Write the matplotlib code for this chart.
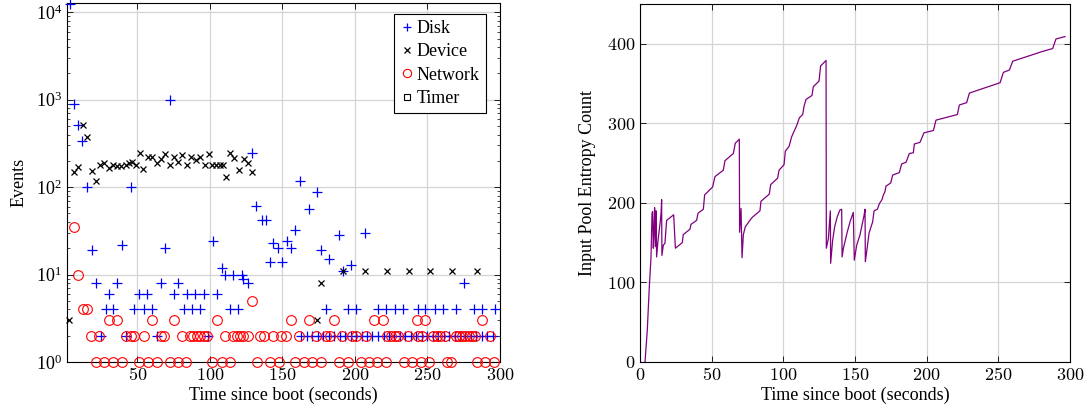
import numpy as np
import matplotlib
matplotlib.use('Agg')
import matplotlib.pyplot as plt
from matplotlib.ticker import LogLocator, NullFormatter, FixedLocator

plt.rcParams['font.family'] = ['Liberation Serif', 'DejaVu Serif']
plt.rcParams['mathtext.fontset'] = 'cm'

# --- left panel: event counts per source ---
disk_x = [3.8, 6.0, 9.3, 11.5, 15.2, 18.5, 21.4, 24.7, 28.3, 30.6, 33.5, 36.3, 39.5, 42.5,
          45.5, 47.7, 51.2, 54.6, 56.9, 60.3, 63.5, 66.0, 69.2, 72.5, 75.1, 78.2, 81.9, 84.1,
          87.6, 89.8, 93.3, 96.0, 99.0, 102.0, 104.7, 108.4, 110.4, 113.9, 116.2, 119.6, 121.9,
          123.0, 126.0, 129.3, 131.8, 135.8, 138.5, 141.2, 143.8, 147.0, 149.9, 153.0, 156.0,
          159.0, 162.2, 168.1, 174.0, 176.6, 180.0, 182.3, 188.7, 191.5, 195.0, 197.5, 201.0,
          206.8, 215.6, 221.3, 227.3, 232.8, 243.2, 248.6, 255.0, 260.4, 269.8, 275.5, 282.0,
          287.6, 296.7,
          163.0, 166.8, 170.5, 174.6, 178.2, 182.0, 185.9, 189.6, 193.3, 197.2, 200.8, 204.7,
          208.4, 212.1, 216.0, 219.7, 223.5, 227.2, 231.0, 234.8, 238.5, 242.3, 246.0, 249.9,
          253.6, 257.3, 261.2, 264.9, 268.7, 272.4, 276.2, 280.0, 283.7, 287.5, 291.3, 295.0]
disk_y = [12500, 900, 510, 340, 100, 19, 8, 2, 4, 6, 4, 8, 22, 2,
          100, 4, 6, 4, 6, 4, 2, 8, 20, 1000, 6, 8, 4, 6,
          4, 6, 4, 6, 2, 24, 6, 12, 10, 4, 10, 4, 10,
          9, 8, 246, 61, 42, 42, 14, 23, 20, 14, 24, 20,
          32, 118, 57, 88, 19, 4, 15, 28, 11, 4, 13, 4,
          30, 4, 4, 4, 4, 4, 4, 4, 4, 4, 8, 4,
          4, 4,
          2, 2, 2, 2, 2, 2, 2, 2, 2, 2, 2, 2,
          2, 2, 2, 2, 2, 2, 2, 2, 2, 2, 2, 2,
          2, 2, 2, 2, 2, 2, 2, 2, 2, 2, 2, 2]

device_x = [3.1, 6.5, 9.3, 12.5, 15.2, 18.4, 21.4, 24.4, 27.1, 30.6, 33.5, 36.3, 39.0, 42.0,
            44.3, 46.6, 48.9, 51.9, 54.1, 57.3, 60.3, 63.3, 66.0, 69.0, 72.5, 75.2, 78.0, 80.9,
            84.3, 87.1, 90.1, 93.1, 96.3, 99.2, 101.5, 104.5, 106.8, 109.1, 111.1, 114.1, 116.9,
            120.0, 123.3, 126.0, 129.3, 173.5, 176.6, 191.5, 207.0, 222.0, 237.0, 252.0, 266.8,
            284.3]
device_y = [3, 148, 169, 510, 371, 155, 119, 181, 188, 166, 180, 177, 177, 180,
            188, 192, 180, 244, 161, 219, 219, 188, 210, 240, 181, 220, 192, 235,
            181, 220, 202, 220, 181, 240, 181, 181, 181, 181, 132, 244, 216,
            157, 210, 188, 150, 3, 8, 11, 11, 11, 11, 11, 11,
            11]

network_x = [6.2, 9.4, 12.5, 15.5, 18.0, 21.2, 23.7, 26.9, 30.6, 33.5, 36.3, 39.5, 42.0, 45.5,
             47.7, 51.3, 54.6, 57.2, 60.3, 63.5, 66.0, 68.3, 72.7, 75.0, 77.8, 80.7, 83.5, 86.4,
             88.7, 91.0, 93.3, 95.6, 97.9, 101.8, 104.7, 108.1, 110.4, 114.0, 116.2, 118.5, 120.7,
             123.1, 126.5, 128.8, 132.2, 134.4, 137.3, 141.3, 143.5, 147.5, 149.3, 152.7, 156.0,
             159.0, 161.7, 165.0, 168.0, 170.5, 173.2, 176.6, 180.1, 183.0, 185.8, 189.2, 191.4,
             195.0, 198.3, 200.6, 204.1, 207.5, 209.8, 213.2, 215.5, 219.1, 221.3, 222.4, 224.7,
             227.5, 230.0, 233.9, 236.6, 239.6, 242.8, 243.5, 245.3, 246.4, 248.5, 251.0, 253.8,
             256.6, 258.9, 261.8, 263.5, 266.0, 269.5, 271.6, 273.8, 276.0, 278.4, 280.7, 282.8,
             284.2, 287.9, 290.0, 293.2, 295.6]
network_y = [35, 10, 4, 4, 2, 1, 2, 1, 3, 1, 3, 1, 2, 2,
             2, 1, 2, 1, 3, 1, 2, 2, 1, 3, 1, 2, 1, 2,
             2, 2, 2, 2, 2, 1, 3, 1, 2, 1, 2, 2, 2,
             2, 2, 5, 1, 2, 2, 1, 2, 1, 2, 2, 3,
             1, 2, 1, 3, 1, 2, 1, 2, 2, 3, 1, 2,
             1, 2, 2, 1, 2, 1, 3, 1, 3, 1, 2, 2,
             2, 2, 1, 2, 1, 3, 2, 1, 2, 3, 1, 2,
             2, 2, 2, 1, 1, 2, 2, 2, 2, 2, 2, 2,
             1, 3, 1, 2, 1]

timer_x = []
timer_y = []

# --- right panel: entropy pool count ---
pool_t = [3.5, 5.1, 6.5, 7.7, 8.4, 8.8, 9.3, 9.8, 10.2, 10.7, 11.2, 11.6, 12.6, 14.0, 14.7,
          15.1, 15.3, 16.3, 17.4, 18.6, 23.5, 24.7, 29.5, 30.2, 34.9, 35.6, 39.5, 40.5, 44.2,
          45.1, 50.7, 52.3, 58.1, 59.3, 65.1, 66.5, 69.3, 69.5, 70.5, 71.2, 72.1, 73.5, 77.9,
          79.1, 83.7, 84.4, 90.2, 91.2, 96.0, 97.0, 100.5, 101.4, 104.0, 105.8, 107.0, 109.3,
          111.2, 113.5, 114.4, 115.8, 120.0, 120.9, 124.9, 126.0, 129.8, 130.0, 131.4, 132.8,
          133.0, 134.4, 135.8, 137.7, 139.5, 140.7, 141.0, 141.9, 144.7, 146.5, 148.8, 149.5,
          151.2, 153.5, 155.1, 156.3, 157.0, 157.2, 158.6, 159.8, 161.2, 162.3, 163.3, 165.6,
          167.0, 168.8, 169.8, 170.9, 171.6, 174.9, 176.3, 180.9, 182.6, 185.6, 187.9, 190.7,
          191.4, 195.3, 198.1, 204.7, 206.5, 221.4, 222.8, 227.9, 229.8, 251.2, 253.5, 257.7,
          260.0, 280.2, 287.9, 290.2, 296.5]
pool_val = [0, 40, 94, 132, 187, 189, 143, 166, 194, 145, 190, 132, 153, 174, 187,
            204, 134, 147, 149, 178, 185, 143, 150, 160, 167, 173, 178, 187, 192,
            210, 220, 233, 241, 253, 262, 275, 280, 163, 193, 131, 160, 170, 181,
            183, 190, 202, 211, 223, 231, 241, 248, 265, 271, 283, 288, 297,
            307, 311, 321, 330, 335, 346, 353, 372, 379, 143, 155, 190,
            124, 153, 170, 183, 191, 192, 132, 143, 164, 176, 188, 128,
            147, 160, 174, 184, 192, 126, 145, 162, 170, 176, 190, 192,
            199, 204, 210, 214, 221, 225, 235, 238, 249, 251, 262, 263,
            274, 276, 288, 291, 304, 311, 323, 326, 338, 351, 364, 367,
            378, 390, 394, 406, 409]

fig = plt.figure(figsize=(10.86, 4.12), dpi=100)
ax1 = fig.add_axes([0.0617, 0.1214, 0.3987, 0.8713])
ax2 = fig.add_axes([0.5893, 0.1214, 0.3960, 0.8690])

grid_kw = dict(color='#d4d4d4', linewidth=0.9)
tick_kw = dict(direction='in', top=True, right=True, labelsize=13, width=0.6)

ax1.plot(disk_x, disk_y, linestyle='none', marker='+', ms=7, mew=0.9, color='blue',
         label='Disk', clip_on=False, zorder=3)
ax1.plot(device_x, device_y, linestyle='none', marker='x', ms=5, mew=0.9, color='black',
         label='Device', clip_on=False, zorder=3)
ax1.plot(network_x, network_y, linestyle='none', marker='o', ms=7, mew=0.8, mfc='none',
         color='red', label='Network', clip_on=False, zorder=3)
ax1.plot(timer_x, timer_y, linestyle='none', marker='s', ms=5.5, mew=0.8, mfc='none',
         color='black', label='Timer')

ax1.set_yscale('log')
ax1.set_xlim(1.5, 300)
ax1.set_ylim(1, 12800)
ax1.xaxis.set_major_locator(FixedLocator([50, 100, 150, 200, 250, 300]))
ax1.set_xticklabels(['$%d$' % v for v in [50, 100, 150, 200, 250, 300]])
ax1.yaxis.set_major_locator(LogLocator(base=10, numticks=10))
ax1.yaxis.set_minor_locator(LogLocator(base=10, subs=np.arange(2, 10), numticks=20))
ax1.yaxis.set_minor_formatter(NullFormatter())
ax1.tick_params(which='both', **tick_kw)
ax1.tick_params(which='major', length=4)
ax1.tick_params(which='minor', length=2.5, width=0.5)
ax1.grid(True, which='major', **grid_kw)
ax1.set_axisbelow(True)
ax1.set_xlabel('Time since boot (seconds)', fontsize=13, labelpad=2)
ax1.set_ylabel('Events', fontsize=13, labelpad=6)
leg = ax1.legend(loc='upper right', bbox_to_anchor=(0.98, 0.985), fontsize=13, frameon=True,
                 fancybox=False, edgecolor='black', framealpha=1, handlelength=0.7,
                 handletextpad=0.2, borderpad=0.35, labelspacing=0.35, borderaxespad=0.3,
                 markerscale=0.85)
leg.get_frame().set_linewidth(0.8)

ax2.plot(pool_t, pool_val, color='purple', linewidth=0.9)
ax2.set_xlim(0, 300)
ax2.set_ylim(0, 450)
ax2.xaxis.set_major_locator(FixedLocator([0, 50, 100, 150, 200, 250, 300]))
ax2.set_xticklabels(['$%d$' % v for v in [0, 50, 100, 150, 200, 250, 300]])
ax2.yaxis.set_major_locator(FixedLocator([0, 100, 200, 300, 400]))
ax2.set_yticklabels(['$%d$' % v for v in [0, 100, 200, 300, 400]])
ax2.tick_params(which='both', length=4, **tick_kw)
ax2.grid(True, **grid_kw)
ax2.set_axisbelow(True)
ax2.set_xlabel('Time since boot (seconds)', fontsize=13, labelpad=2)
ax2.set_ylabel('Input Pool Entropy Count', fontsize=13, labelpad=8)

for ax in (ax1, ax2):
    for s in ax.spines.values():
        s.set_linewidth(0.8)

fig.savefig('out.png', dpi=100)
